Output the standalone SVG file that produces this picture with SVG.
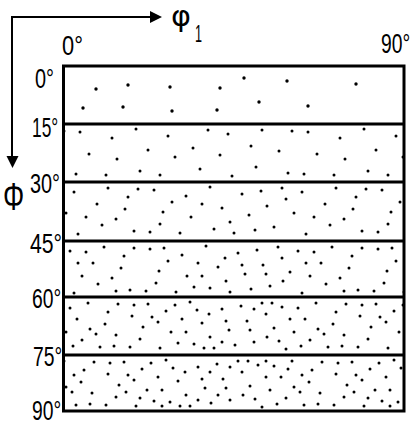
<svg xmlns="http://www.w3.org/2000/svg" width="420" height="426" viewBox="0 0 420 426">
<style>
.lbl{font-family:"Liberation Sans",Arial,sans-serif;font-size:28px;fill:#000}
.ax{stroke:#000;stroke-width:2;fill:none}
.frame{stroke:#000;stroke-width:3;fill:none}
</style>
<defs>
<g id="g1" fill="#000">
<circle cx="10" cy="8" r="1.5"/><circle cx="42" cy="14" r="1.5"/><circle cx="66" cy="5" r="1.5"/><circle cx="98" cy="12" r="1.5"/>
<circle cx="19" cy="30" r="1.5"/><circle cx="47" cy="35" r="1.5"/><circle cx="78" cy="26" r="1.5"/><circle cx="105" cy="33" r="1.5"/>
<circle cx="6" cy="50" r="1.5"/><circle cx="36" cy="51" r="1.5"/><circle cx="70" cy="47" r="1.5"/><circle cx="90" cy="51" r="1.5"/>
</g>
<g id="g2" fill="#000">
<circle cx="28" cy="20" r="1.5"/><circle cx="58" cy="22" r="1.5"/><circle cx="86" cy="40" r="1.5"/><circle cx="111" cy="48" r="1.5"/><circle cx="16" cy="42" r="1.5"/>
</g>
<g id="g3" fill="#000">
<circle cx="54" cy="46" r="1.5"/><circle cx="24" cy="7" r="1.5"/><circle cx="85" cy="17" r="1.5"/><circle cx="102" cy="24" r="1.5"/><circle cx="62" cy="35" r="1.5"/>
</g>
<g id="g4" fill="#000">
<circle cx="34" cy="25" r="1.5"/><circle cx="73" cy="13" r="1.5"/><circle cx="98" cy="45" r="1.5"/><circle cx="8" cy="19" r="1.5"/><circle cx="51" cy="8" r="1.5"/><circle cx="80" cy="51" r="1.5"/>
</g>
<g id="g5" fill="#000">
<circle cx="40" cy="43" r="1.5"/><circle cx="110" cy="17" r="1.5"/><circle cx="62" cy="51" r="1.5"/><circle cx="26" cy="37" r="1.5"/>
</g>
<g id="c2"><use href="#g1"/></g>
<g id="c3"><use href="#g1"/><use href="#g2"/></g>
<g id="c4"><use href="#g1"/><use href="#g2"/><use href="#g3"/></g>
<g id="c5"><use href="#g1"/><use href="#g2"/><use href="#g3"/><use href="#g4"/></g>
<g id="c6"><use href="#g1"/><use href="#g2"/><use href="#g3"/><use href="#g4"/><use href="#g5"/></g>
<pattern id="p2" patternUnits="userSpaceOnUse" x="70" y="124" width="228" height="58"><use href="#c2"/><use href="#c2" transform="translate(228,57) scale(-1,-1)"/></pattern>
<pattern id="p3" patternUnits="userSpaceOnUse" x="30" y="182" width="228" height="59"><use href="#c3" transform="translate(114,57) scale(-1,-1)"/><use href="#c3" transform="translate(114,0)"/></pattern>
<pattern id="p4" patternUnits="userSpaceOnUse" x="140" y="241" width="228" height="58"><use href="#c4"/><use href="#c4" transform="translate(228,57) scale(-1,-1)"/></pattern>
<pattern id="p5" patternUnits="userSpaceOnUse" x="10" y="297" width="228" height="58"><use href="#c5" transform="translate(114,57) scale(-1,-1)"/><use href="#c5" transform="translate(114,0)"/></pattern>
<pattern id="p6" patternUnits="userSpaceOnUse" x="100" y="355" width="228" height="58"><use href="#c6"/><use href="#c6" transform="translate(228,57) scale(-1,-1)"/></pattern>
</defs>
<rect width="420" height="426" fill="#fff"/>
<g id="bands">
<g id="band1" fill="#000">
<circle cx="96" cy="89" r="1.7"/><circle cx="128" cy="85" r="1.7"/><circle cx="170" cy="87" r="1.7"/>
<circle cx="83" cy="108" r="1.7"/><circle cx="123" cy="107" r="1.7"/><circle cx="172" cy="111" r="1.7"/>
<circle cx="220" cy="88" r="1.7"/><circle cx="244" cy="78" r="1.7"/><circle cx="287" cy="81" r="1.7"/><circle cx="356" cy="84" r="1.7"/>
<circle cx="217" cy="110" r="1.7"/><circle cx="259" cy="102" r="1.7"/><circle cx="308" cy="106" r="1.7"/>
</g>
<rect id="band2" x="65" y="126" width="338" height="55" fill="url(#p2)"/>
<rect id="band3" x="65" y="184" width="338" height="55" fill="url(#p3)"/>
<rect id="band4" x="65" y="243" width="338" height="53" fill="url(#p4)"/>
<rect id="band5" x="65" y="299" width="338" height="54" fill="url(#p5)"/>
<rect id="band6" x="65" y="357" width="338" height="53" fill="url(#p6)"/>
</g>
<g id="frame" class="frame">
<rect x="63.5" y="66" width="340.5" height="345"/>
<line x1="63.5" y1="124" x2="404" y2="124"/>
<line x1="63.5" y1="182" x2="404" y2="182"/>
<line x1="63.5" y1="241" x2="404" y2="241"/>
<line x1="63.5" y1="297" x2="404" y2="297"/>
<line x1="63.5" y1="355" x2="404" y2="355"/>
</g>
<g id="connectors">
<path class="ax" d="M12,158 L12,17 L151,17"/>
<polygon points="150,11 162,17 150,23" fill="#000"/>
<polygon points="6.5,156 18.5,156 12.5,168" fill="#000"/>
</g>
<g id="labels">
<text class="lbl" transform="translate(62,55) scale(0.78,1)">0°</text>
<text class="lbl" transform="translate(381,53) scale(0.69,1)">90°</text>
<text class="lbl" transform="translate(35,88) scale(0.71,1)">0°</text>
<text class="lbl" transform="translate(32,137) scale(0.62,1)">15°</text>
<text class="lbl" transform="translate(30,193) scale(0.71,1)">30°</text>
<text class="lbl" transform="translate(30,253) scale(0.757,1)">45°</text>
<text class="lbl" transform="translate(32,308) scale(0.69,1)">60°</text>
<text class="lbl" transform="translate(33,366) scale(0.69,1)">75°</text>
<text class="lbl" transform="translate(32,420) scale(0.69,1)">90°</text>
<text x="171" y="26" font-family="DejaVu Sans, sans-serif" font-size="29" fill="#000" textLength="20" lengthAdjust="spacingAndGlyphs">φ</text>
<text x="195" y="42" font-family="Liberation Sans, Arial, sans-serif" font-size="24" fill="#000" textLength="7" lengthAdjust="spacingAndGlyphs">1</text>
<text font-family="Liberation Sans, Arial, sans-serif" font-size="38" fill="#000" transform="translate(3,210) scale(0.7,1)">Φ</text>
</g>
</svg>
